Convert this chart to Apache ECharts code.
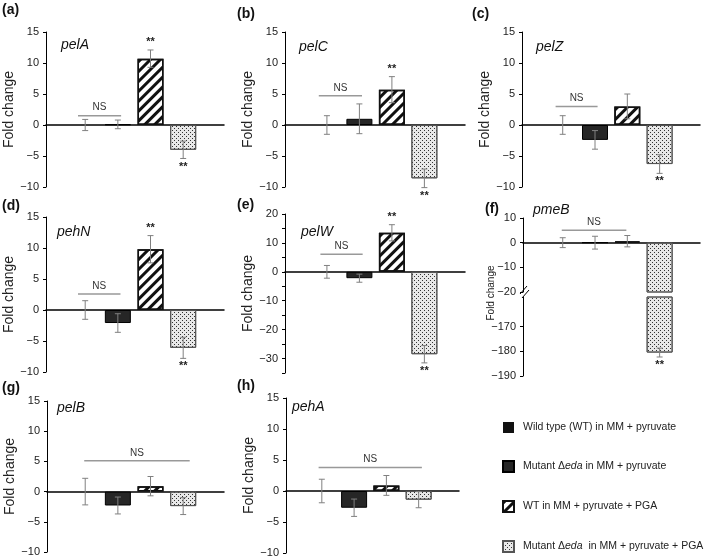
<!DOCTYPE html>
<html>
<head>
<meta charset="utf-8">
<script src="https://cdn.jsdelivr.net/npm/echarts@6/dist/echarts.min.js"></script>
<style>
  html, body { margin: 0; padding: 0; background: #fff; }
  #chart { width: 709px; height: 560px; }
</style>
</head>
<body>
<div id="chart"></div>
<script>
// groups (legend order)
const groups = [
  'Wild type (WT) in MM + pyruvate',
  'Mutant \u0394eda in MM + pyruvate',
  'WT in MM + pyruvate + PGA',
  'Mutant \u0394eda  in MM + pyruvate + PGA'
];
const genes = ['pelA', 'pelC', 'pelZ', 'pehN', 'pelW', 'pmeB', 'pelB', 'pehA'];
const tags = ['(a)', '(b)', '(c)', '(d)', '(e)', '(f)', '(g)', '(h)'];

// fold change, error, significance, NS bracket [from, to, y]
const pelA = [0, 0.1, 10.7, -4.0];
const pelAErr = [0.9, 0.7, 1.4, 1.4];
const pelASig = ['', '', '**', '**'];
const pelANs = [0.78, 2.1, 1.5];

const pelC = [0, 1.0, 5.7, -8.6];
const pelCErr = [1.5, 2.4, 2.1, 1.5];
const pelCSig = ['', '', '**', '**'];
const pelCNs = [0.75, 2.08, 4.7];

const pelZ = [0, -2.4, 3.0, -6.3];
const pelZErr = [1.5, 1.5, 2.0, 1.5];
const pelZSig = ['', '', '', '**'];
const pelZNs = [0.78, 2.08, 3.0];

const pehN = [0, -2.1, 9.8, -6.1];
const pehNErr = [1.5, 1.5, 2.2, 1.7];
const pehNSig = ['', '', '**', '**'];
const pehNNs = [0.78, 2.08, 2.6];

const pelW = [0, -2.2, 13.5, -28.5];
const pelWErr = [2.2, 1.4, 2.8, 3.0];
const pelWSig = ['', '', '**', '**'];
const pelWNs = [0.8, 2.1, 6.1];

const pmeB = [0, 0, 0.6, -180.5];
const pmeBErr = [2.0, 2.6, 2.3, 1.8];
const pmeBSig = ['', '', '', '**'];
const pmeBNs = [0.97, 2.97, 5.0];

const pelB = [0, -2.3, 0.9, -2.4];
const pelBErr = [2.2, 1.4, 1.6, 1.4];
const pelBSig = ['', '', '', ''];
const pelBNs = [0.97, 4.2, 5.1];

const pehA = [0, -2.7, 0.9, -1.4];
const pehAErr = [1.9, 1.4, 1.6, 1.3];
const pehASig = ['', '', '', ''];
const pehANs = [0.9, 4.1, 3.8];

// y axis ranges
const yMin = [-10, -10, -10, -10, -35, -20, -10, -10];
const yMax = [15, 15, 15, 15, 20, 10, 15, 15];
const yStep = [5, 5, 5, 5, 5, 10, 5, 5];
const pmeBLowMin = -190, pmeBLowMax = -158;
const pmeBLowTicks = [-190, -180, -170];

const panels = [
  [pelA, pelAErr, pelASig, pelANs], [pelC, pelCErr, pelCSig, pelCNs],
  [pelZ, pelZErr, pelZSig, pelZNs], [pehN, pehNErr, pehNSig, pehNNs],
  [pelW, pelWErr, pelWSig, pelWNs], [pmeB, pmeBErr, pmeBSig, pmeBNs],
  [pelB, pelBErr, pelBSig, pelBNs], [pehA, pehAErr, pehASig, pehANs]
];

// layout: [left, top, width, height, xMin]
const boxes = [
  [46, 32, 178, 155, -0.2], [285, 32, 180, 155, -0.29], [522, 32, 178, 155, -0.26],
  [46, 217, 178, 155, -0.2], [285, 214, 180, 159, -0.29], [523, 218, 177, 74, -0.23],
  [47, 401, 177, 151, -0.17], [286, 398, 173, 155, -0.11],
  [523, 297, 177, 79, -0.23] // pmeB lower part
];
const xMax = 5.25;
const font = 'Liberation Sans, Arial, sans-serif';

const barStyles = [
  { color: '#111' },
  { color: '#262626', borderColor: '#000', borderWidth: 1 },
  { color: '#fff', borderColor: '#111', borderWidth: 1.5,
    decal: { symbol: 'rect', symbolSize: 1, dashArrayX: [1, 0], dashArrayY: [3, 4],
             rotation: -Math.PI / 4, color: '#111' } },
  { color: '#e8e8e8', borderColor: '#555', borderWidth: 1,
    decal: { symbol: 'rect', symbolSize: 1, dashArrayX: [[1, 3], [0, 2, 1, 1]],
             dashArrayY: [1, 1], rotation: 0, color: '#333' } }
];

const minus = v => String(v).replace('-', '\u2212');

function errRender(params, api) {
  const x = api.value(0), y = api.value(1), e = api.value(2);
  const a = api.coord([x, y + e]), b = api.coord([x, y - e]);
  const st = { stroke: '#808080', lineWidth: 1 };
  return { type: 'group', children: [
    { type: 'line', shape: { x1: a[0], y1: a[1], x2: b[0], y2: b[1] }, style: st },
    { type: 'line', shape: { x1: a[0] - 3, y1: a[1], x2: a[0] + 3, y2: a[1] }, style: st },
    { type: 'line', shape: { x1: b[0] - 3, y1: b[1], x2: b[0] + 3, y2: b[1] }, style: st }
  ] };
}

function sigRender(params, api) {
  const x = api.value(0), y = api.value(1), d = api.value(2);
  const p = api.coord([x, y]);
  return { type: 'text', x: p[0], y: p[1] - d * 8,
    style: { text: '**', fontSize: 11, fontWeight: 'bold', fill: '#222', fontFamily: font,
             align: 'center', verticalAlign: 'middle' } };
}

function nsRender(params, api) {
  const a = api.coord([api.value(0), api.value(2)]);
  const b = api.coord([api.value(1), api.value(2)]);
  return { type: 'group', children: [
    { type: 'line', shape: { x1: a[0], y1: a[1], x2: b[0], y2: b[1] },
      style: { stroke: '#999', lineWidth: 1.5 } },
    { type: 'text', x: (a[0] + b[0]) / 2, y: a[1] - 8,
      style: { text: 'NS', fontSize: 10, fill: '#333', fontFamily: font,
               align: 'center', verticalAlign: 'middle' } }
  ] };
}

const grids = [], xAxes = [], yAxes = [], series = [];
boxes.forEach((b, g) => {
  grids.push({ left: b[0], top: b[1], width: b[2], height: b[3] });
  const low = g === 8;
  xAxes.push({ type: 'value', gridIndex: g, min: b[4], max: xMax, show: !low,
    axisLine: { onZero: true, lineStyle: { color: '#000', width: 1.5 } },
    axisTick: { show: false }, axisLabel: { show: false }, splitLine: { show: false } });
  const y = { type: 'value', gridIndex: g,
    axisLine: { show: true, onZero: false, lineStyle: { color: '#000', width: 1 } },
    axisTick: { show: true, length: 3, lineStyle: { color: '#000' } },
    axisLabel: { color: '#222', fontSize: 11, margin: 7, fontFamily: font, formatter: minus },
    splitLine: { show: false } };
  if (low) {
    Object.assign(y, { min: pmeBLowMin, max: pmeBLowMax });
    y.axisTick.customValues = pmeBLowTicks;
    y.axisLabel.customValues = pmeBLowTicks;
  } else {
    Object.assign(y, { min: yMin[g], max: yMax[g], interval: yStep[g] });
    if (g === 4) y.axisLabel.formatter = v => (v % 10 === 0 ? minus(v) : '');
    if (g !== 5) Object.assign(y, { name: 'Fold change', nameLocation: 'middle', nameGap: 28,
      nameTextStyle: { fontSize: 14, color: '#222', fontFamily: font } });
  }
  yAxes.push(y);
});

function addPanel(g, vals, errs, sig, ns, keep) {
  vals.forEach((v, k) => {
    series.push({ type: 'bar', name: groups[k], xAxisIndex: g, yAxisIndex: g,
      data: [[k + 1, v]], barWidth: 26, barGap: '-100%', itemStyle: barStyles[k],
      emphasis: { disabled: true }, animation: false });
  });
  const ed = [], sd = [];
  vals.forEach((v, k) => {
    if (!keep(v)) return;
    ed.push([k + 1, v, errs[k]]);
    if (sig[k]) {
      const d = v >= 0 ? 1 : -1;
      sd.push([k + 1, v + d * errs[k], d]);
    }
  });
  series.push({ type: 'custom', xAxisIndex: g, yAxisIndex: g, data: ed,
    renderItem: errRender, silent: true, animation: false, z: 5 });
  series.push({ type: 'custom', xAxisIndex: g, yAxisIndex: g, data: sd,
    renderItem: sigRender, silent: true, animation: false, z: 5 });
  if (ns) series.push({ type: 'custom', xAxisIndex: g, yAxisIndex: g, data: [ns],
    encode: { x: [0, 1], y: 2 }, renderItem: nsRender, silent: true, animation: false, z: 5 });
}

panels.forEach((p, g) => {
  if (g === 5) {
    addPanel(5, p[0], p[1], p[2], p[3], v => v > -20);
    addPanel(8, p[0], p[1], p[2], null, v => v < -150);
  } else {
    addPanel(g, p[0], p[1], p[2], p[3], () => true);
  }
});

// text decorations
const tagPos = [[2, 10], [237, 14], [472, 14], [2, 206], [237, 205], [485, 209], [2, 388], [237, 386]];
const genePos = [[61, 45], [299, 47], [536, 47], [57, 232], [301, 232], [533, 210], [57, 408], [292, 407]];
const graphic = [];
tags.forEach((t, i) => graphic.push({ type: 'text', x: tagPos[i][0], y: tagPos[i][1],
  style: { text: t, fontSize: 14, fontWeight: 'bold', fill: '#111', fontFamily: font, verticalAlign: 'middle' } }));
genes.forEach((t, i) => graphic.push({ type: 'text', x: genePos[i][0], y: genePos[i][1],
  style: { text: t, fontSize: 14, fontStyle: 'italic', fill: '#111', fontFamily: font, verticalAlign: 'middle' } }));
graphic.push({ type: 'text', x: 491, y: 293, rotation: Math.PI / 2,
  style: { text: 'Fold change', fontSize: 10, fill: '#222', fontFamily: font, align: 'center', verticalAlign: 'middle' } });
graphic.push({ type: 'line', shape: { x1: 520, y1: 294, x2: 527, y2: 286 }, style: { stroke: '#000', lineWidth: 1 } });
graphic.push({ type: 'line', shape: { x1: 522, y1: 298, x2: 529, y2: 290 }, style: { stroke: '#000', lineWidth: 1 } });

const chart = echarts.init(document.getElementById('chart'));
chart.setOption({
  animation: false,
  textStyle: { fontFamily: font },
  grid: grids,
  xAxis: xAxes,
  yAxis: yAxes,
  legend: {
    data: groups, orient: 'vertical', left: 497, top: 417,
    itemWidth: 11, itemHeight: 11, itemGap: 27, icon: 'rect', selectedMode: false,
    formatter: n => '{n|' + n.replace('eda', '}{i|eda}{n|') + '}',
    textStyle: { fontSize: 10.5, color: '#222', padding: [0, 0, 0, 4],
      rich: { n: { fontSize: 10.5, color: '#222', fontFamily: font },
              i: { fontSize: 10.5, color: '#222', fontStyle: 'italic', fontFamily: font } } }
  },
  graphic: graphic,
  series: series
});
</script>
</body>
</html>
